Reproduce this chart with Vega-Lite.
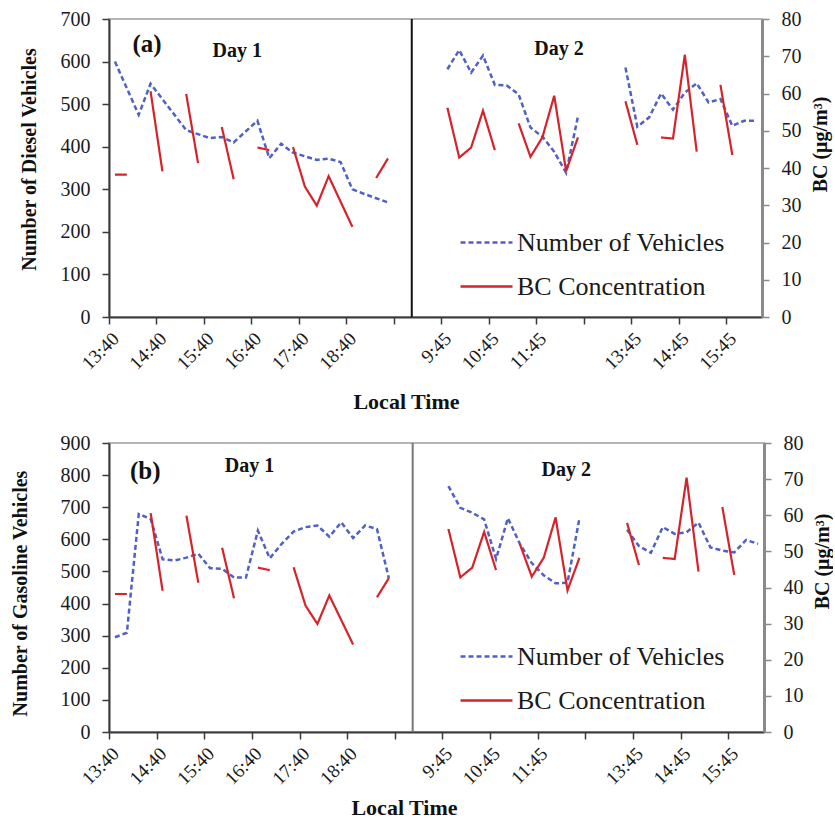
{
  "$schema": "https://vega.github.io/schema/vega-lite/v6.json",
  "padding": {"left": 9, "top": 8, "right": 0, "bottom": 0},
  "background": "white",
  "datasets": {
    "vehA": [
      {"slot": 0, "seg": 1, "count": 600, "series": "Number of Vehicles"},
      {"slot": 2, "seg": 1, "count": 475, "series": "Number of Vehicles"},
      {"slot": 3, "seg": 1, "count": 548, "series": "Number of Vehicles"},
      {"slot": 6, "seg": 1, "count": 439, "series": "Number of Vehicles"},
      {"slot": 8, "seg": 1, "count": 420, "series": "Number of Vehicles"},
      {"slot": 9, "seg": 1, "count": 423, "series": "Number of Vehicles"},
      {"slot": 10, "seg": 1, "count": 410, "series": "Number of Vehicles"},
      {"slot": 12, "seg": 1, "count": 461, "series": "Number of Vehicles"},
      {"slot": 13, "seg": 1, "count": 373, "series": "Number of Vehicles"},
      {"slot": 14, "seg": 1, "count": 407, "series": "Number of Vehicles"},
      {"slot": 15, "seg": 1, "count": 386, "series": "Number of Vehicles"},
      {"slot": 17, "seg": 1, "count": 369, "series": "Number of Vehicles"},
      {"slot": 18, "seg": 1, "count": 372, "series": "Number of Vehicles"},
      {"slot": 19, "seg": 1, "count": 364, "series": "Number of Vehicles"},
      {"slot": 20, "seg": 1, "count": 300, "series": "Number of Vehicles"},
      {"slot": 21, "seg": 1, "count": 289, "series": "Number of Vehicles"},
      {"slot": 22, "seg": 1, "count": 279, "series": "Number of Vehicles"},
      {"slot": 23, "seg": 1, "count": 269, "series": "Number of Vehicles"},
      {"slot": 28, "seg": 2, "count": 582, "series": "Number of Vehicles"},
      {"slot": 29, "seg": 2, "count": 627, "series": "Number of Vehicles"},
      {"slot": 30, "seg": 2, "count": 574, "series": "Number of Vehicles"},
      {"slot": 31, "seg": 2, "count": 614, "series": "Number of Vehicles"},
      {"slot": 32, "seg": 2, "count": 545, "series": "Number of Vehicles"},
      {"slot": 33, "seg": 2, "count": 544, "series": "Number of Vehicles"},
      {"slot": 34, "seg": 2, "count": 523, "series": "Number of Vehicles"},
      {"slot": 35, "seg": 2, "count": 445, "series": "Number of Vehicles"},
      {"slot": 36, "seg": 2, "count": 424, "series": "Number of Vehicles"},
      {"slot": 37, "seg": 2, "count": 388, "series": "Number of Vehicles"},
      {"slot": 38, "seg": 2, "count": 339, "series": "Number of Vehicles"},
      {"slot": 39, "seg": 2, "count": 471, "series": "Number of Vehicles"},
      {"slot": 43, "seg": 3, "count": 586, "series": "Number of Vehicles"},
      {"slot": 44, "seg": 3, "count": 447, "series": "Number of Vehicles"},
      {"slot": 45, "seg": 3, "count": 469, "series": "Number of Vehicles"},
      {"slot": 46, "seg": 3, "count": 525, "series": "Number of Vehicles"},
      {"slot": 47, "seg": 3, "count": 487, "series": "Number of Vehicles"},
      {"slot": 48, "seg": 3, "count": 527, "series": "Number of Vehicles"},
      {"slot": 49, "seg": 3, "count": 549, "series": "Number of Vehicles"},
      {"slot": 50, "seg": 3, "count": 504, "series": "Number of Vehicles"},
      {"slot": 51, "seg": 3, "count": 512, "series": "Number of Vehicles"},
      {"slot": 52, "seg": 3, "count": 449, "series": "Number of Vehicles"},
      {"slot": 53, "seg": 3, "count": 461, "series": "Number of Vehicles"},
      {"slot": 54, "seg": 3, "count": 461, "series": "Number of Vehicles"}
    ],
    "vehB": [
      {"slot": 0, "seg": 1, "count": 295, "series": "Number of Vehicles"},
      {"slot": 1, "seg": 1, "count": 309, "series": "Number of Vehicles"},
      {"slot": 2, "seg": 1, "count": 679, "series": "Number of Vehicles"},
      {"slot": 3, "seg": 1, "count": 663, "series": "Number of Vehicles"},
      {"slot": 4, "seg": 1, "count": 538, "series": "Number of Vehicles"},
      {"slot": 5, "seg": 1, "count": 534, "series": "Number of Vehicles"},
      {"slot": 6, "seg": 1, "count": 543, "series": "Number of Vehicles"},
      {"slot": 7, "seg": 1, "count": 555, "series": "Number of Vehicles"},
      {"slot": 8, "seg": 1, "count": 510, "series": "Number of Vehicles"},
      {"slot": 9, "seg": 1, "count": 508, "series": "Number of Vehicles"},
      {"slot": 10, "seg": 1, "count": 481, "series": "Number of Vehicles"},
      {"slot": 11, "seg": 1, "count": 481, "series": "Number of Vehicles"},
      {"slot": 12, "seg": 1, "count": 627, "series": "Number of Vehicles"},
      {"slot": 13, "seg": 1, "count": 541, "series": "Number of Vehicles"},
      {"slot": 14, "seg": 1, "count": 586, "series": "Number of Vehicles"},
      {"slot": 15, "seg": 1, "count": 624, "series": "Number of Vehicles"},
      {"slot": 16, "seg": 1, "count": 638, "series": "Number of Vehicles"},
      {"slot": 17, "seg": 1, "count": 643, "series": "Number of Vehicles"},
      {"slot": 18, "seg": 1, "count": 608, "series": "Number of Vehicles"},
      {"slot": 19, "seg": 1, "count": 653, "series": "Number of Vehicles"},
      {"slot": 20, "seg": 1, "count": 604, "series": "Number of Vehicles"},
      {"slot": 21, "seg": 1, "count": 643, "series": "Number of Vehicles"},
      {"slot": 22, "seg": 1, "count": 632, "series": "Number of Vehicles"},
      {"slot": 23, "seg": 1, "count": 479, "series": "Number of Vehicles"},
      {"slot": 28, "seg": 2, "count": 766, "series": "Number of Vehicles"},
      {"slot": 29, "seg": 2, "count": 698, "series": "Number of Vehicles"},
      {"slot": 30, "seg": 2, "count": 683, "series": "Number of Vehicles"},
      {"slot": 31, "seg": 2, "count": 662, "series": "Number of Vehicles"},
      {"slot": 32, "seg": 2, "count": 539, "series": "Number of Vehicles"},
      {"slot": 33, "seg": 2, "count": 666, "series": "Number of Vehicles"},
      {"slot": 34, "seg": 2, "count": 586, "series": "Number of Vehicles"},
      {"slot": 35, "seg": 2, "count": 526, "series": "Number of Vehicles"},
      {"slot": 36, "seg": 2, "count": 488, "series": "Number of Vehicles"},
      {"slot": 37, "seg": 2, "count": 463, "series": "Number of Vehicles"},
      {"slot": 38, "seg": 2, "count": 465, "series": "Number of Vehicles"},
      {"slot": 39, "seg": 2, "count": 665, "series": "Number of Vehicles"},
      {"slot": 43, "seg": 3, "count": 630, "series": "Number of Vehicles"},
      {"slot": 44, "seg": 3, "count": 579, "series": "Number of Vehicles"},
      {"slot": 45, "seg": 3, "count": 558, "series": "Number of Vehicles"},
      {"slot": 46, "seg": 3, "count": 638, "series": "Number of Vehicles"},
      {"slot": 47, "seg": 3, "count": 617, "series": "Number of Vehicles"},
      {"slot": 48, "seg": 3, "count": 622, "series": "Number of Vehicles"},
      {"slot": 49, "seg": 3, "count": 652, "series": "Number of Vehicles"},
      {"slot": 50, "seg": 3, "count": 575, "series": "Number of Vehicles"},
      {"slot": 51, "seg": 3, "count": 565, "series": "Number of Vehicles"},
      {"slot": 52, "seg": 3, "count": 559, "series": "Number of Vehicles"},
      {"slot": 53, "seg": 3, "count": 598, "series": "Number of Vehicles"},
      {"slot": 54, "seg": 3, "count": 586, "series": "Number of Vehicles"}
    ],
    "bc": [
      {"slot": 0, "seg": 1, "bc": 38.2, "series": "BC Concentration"},
      {"slot": 1, "seg": 1, "bc": 38.2, "series": "BC Concentration"},
      {"slot": 3, "seg": 2, "bc": 60.6, "series": "BC Concentration"},
      {"slot": 4, "seg": 2, "bc": 39.1, "series": "BC Concentration"},
      {"slot": 6, "seg": 3, "bc": 59.9, "series": "BC Concentration"},
      {"slot": 7, "seg": 3, "bc": 41.3, "series": "BC Concentration"},
      {"slot": 9, "seg": 4, "bc": 51.0, "series": "BC Concentration"},
      {"slot": 10, "seg": 4, "bc": 37.0, "series": "BC Concentration"},
      {"slot": 12, "seg": 5, "bc": 45.5, "series": "BC Concentration"},
      {"slot": 13, "seg": 5, "bc": 44.8, "series": "BC Concentration"},
      {"slot": 15, "seg": 6, "bc": 45.6, "series": "BC Concentration"},
      {"slot": 16, "seg": 6, "bc": 35.0, "series": "BC Concentration"},
      {"slot": 17, "seg": 6, "bc": 29.9, "series": "BC Concentration"},
      {"slot": 18, "seg": 6, "bc": 37.8, "series": "BC Concentration"},
      {"slot": 20, "seg": 6, "bc": 24.2, "series": "BC Concentration"},
      {"slot": 22, "seg": 7, "bc": 37.3, "series": "BC Concentration"},
      {"slot": 23, "seg": 7, "bc": 42.6, "series": "BC Concentration"},
      {"slot": 28, "seg": 8, "bc": 56.2, "series": "BC Concentration"},
      {"slot": 29, "seg": 8, "bc": 42.8, "series": "BC Concentration"},
      {"slot": 30, "seg": 8, "bc": 45.5, "series": "BC Concentration"},
      {"slot": 31, "seg": 8, "bc": 55.4, "series": "BC Concentration"},
      {"slot": 32, "seg": 8, "bc": 44.8, "series": "BC Concentration"},
      {"slot": 34, "seg": 9, "bc": 52.0, "series": "BC Concentration"},
      {"slot": 35, "seg": 9, "bc": 43.0, "series": "BC Concentration"},
      {"slot": 36, "seg": 9, "bc": 48.2, "series": "BC Concentration"},
      {"slot": 37, "seg": 9, "bc": 59.4, "series": "BC Concentration"},
      {"slot": 38, "seg": 9, "bc": 39.2, "series": "BC Concentration"},
      {"slot": 39, "seg": 9, "bc": 48.2, "series": "BC Concentration"},
      {"slot": 43, "seg": 10, "bc": 57.9, "series": "BC Concentration"},
      {"slot": 44, "seg": 10, "bc": 46.2, "series": "BC Concentration"},
      {"slot": 46, "seg": 11, "bc": 48.2, "series": "BC Concentration"},
      {"slot": 47, "seg": 11, "bc": 47.9, "series": "BC Concentration"},
      {"slot": 48, "seg": 11, "bc": 70.4, "series": "BC Concentration"},
      {"slot": 49, "seg": 11, "bc": 44.4, "series": "BC Concentration"},
      {"slot": 51, "seg": 12, "bc": 62.3, "series": "BC Concentration"},
      {"slot": 52, "seg": 12, "bc": 43.5, "series": "BC Concentration"}
    ]
  },
  "config": {
    "font": "Liberation Serif",
    "view": {"stroke": "#b5b5b5", "strokeWidth": 2},
    "axis": {
      "labelFont": "Liberation Serif", "labelFontSize": 20, "labelColor": "#1a1a1a",
      "titleFont": "Liberation Serif", "titleFontSize": 20, "titleFontWeight": "bold", "titleColor": "#111",
      "grid": false, "domainColor": "#3a3a3a", "tickColor": "#3a3a3a", "domainWidth": 2, "tickWidth": 1.5, "tickSize": 7, "labelPadding": 12,
      "labelOverlap": false, "labelFlush": false
    },
    "axisX": {"labelPadding": 5, "labelFontSize": 19, "titleFontSize": 22},
    "legend": {
      "orient": "none", "title": null, "symbolType": "stroke", "symbolSize": 2700, "symbolStrokeWidth": 2.5,
      "labelFont": "Liberation Serif", "labelFontSize": 26, "labelColor": "#1a1a1a", "labelOffset": 3, "rowPadding": 3, "labelLimit": 400
    }
  },
  "resolve": {"scale": {"color": "independent", "strokeDash": "independent"}},
  "spacing": 18,
  "vconcat": [
    {
      "width": 653, "height": 298,
      "resolve": {"scale": {"y": "independent"}},
      "layer": [
        {
          "layer": [
            {
              "data": {"name": "vehA"},
              "mark": {"type": "line", "strokeWidth": 2.5},
              "encoding": {
                "x": {"field": "slot", "type": "quantitative", "scale": {"domain": [-0.5, 54.5], "nice": false, "zero": false},
                  "axis": {"title": "Local Time", "titleX": 297, "titlePadding": 18, "values": [-0.5, 3.5, 7.5, 11.5, 15.5, 19.5, 23.5, 27.5, 31.5, 35.5, 39.5, 43.5, 47.5, 51.5], "labelAngle": -45,
                    "labelExpr": "['13:40','14:40','15:40','16:40','17:40','18:40','','9:45','10:45','11:45','','13:45','14:45','15:45'][round((datum.value+0.5)/4)]"}},
                "y": {"field": "count", "type": "quantitative", "scale": {"domain": [0, 700], "nice": false},
                  "axis": {"title": "Number of Diesel Vehicles", "values": [0, 100, 200, 300, 400, 500, 600, 700], "titlePadding": 21, "titleY": 140}},
                "detail": {"field": "seg"},
                "color": {"field": "series", "type": "nominal", "scale": {"domain": ["Number of Vehicles", "BC Concentration"], "range": ["#5160C4", "#D6232B"]},
                  "legend": {"legendX": 350, "legendY": 196}},
                "strokeDash": {"field": "series", "type": "nominal", "scale": {"domain": ["Number of Vehicles", "BC Concentration"], "range": [[5, 3], [1, 0]]},
                  "legend": {"legendX": 350, "legendY": 196}}
              }
            },
            {
              "data": {"values": [{}]},
              "mark": {"type": "rule", "color": "#111", "strokeWidth": 2},
              "encoding": {"x": {"datum": 25, "type": "quantitative"}}
            },
            {
              "data": {"values": [{}]},
              "mark": {"type": "text", "text": "(a)", "fontSize": 25, "fontWeight": "bold", "font": "Liberation Serif", "color": "#111"},
              "encoding": {"x": {"datum": 2.7, "type": "quantitative"},
                "y": {"datum": 642, "type": "quantitative", "axis": {"title": "Number of Diesel Vehicles", "values": [0, 100, 200, 300, 400, 500, 600, 700], "titlePadding": 21, "titleY": 140}}}
            },
            {
              "data": {"values": [{}]},
              "mark": {"type": "text", "text": "Day 1", "fontSize": 20, "fontWeight": "bold", "font": "Liberation Serif", "color": "#111"},
              "encoding": {"x": {"datum": 10.3, "type": "quantitative"},
                "y": {"datum": 625, "type": "quantitative", "axis": {"title": "Number of Diesel Vehicles", "values": [0, 100, 200, 300, 400, 500, 600, 700], "titlePadding": 21, "titleY": 140}}}
            },
            {
              "data": {"values": [{}]},
              "mark": {"type": "text", "text": "Day 2", "fontSize": 20, "fontWeight": "bold", "font": "Liberation Serif", "color": "#111"},
              "encoding": {"x": {"datum": 37.4, "type": "quantitative"},
                "y": {"datum": 630, "type": "quantitative", "axis": {"title": "Number of Diesel Vehicles", "values": [0, 100, 200, 300, 400, 500, 600, 700], "titlePadding": 21, "titleY": 140}}}
            }
          ]
        },
        {
          "data": {"name": "bc"},
          "mark": {"type": "line", "strokeWidth": 2.2},
          "encoding": {
            "x": {"field": "slot", "type": "quantitative"},
            "y": {"field": "bc", "type": "quantitative", "scale": {"domain": [0, 80], "nice": false},
              "axis": {"orient": "right", "title": "BC (μg/m³)", "titleAngle": -90, "titleY": 125, "titlePadding": 29, "values": [0, 10, 20, 30, 40, 50, 60, 70, 80], "domainColor": "#8a8a8a", "tickColor": "#8a8a8a", "domainWidth": 3}},
            "detail": {"field": "seg"},
            "color": {"field": "series", "type": "nominal"},
            "strokeDash": {"field": "series", "type": "nominal"}
          }
        }
      ]
    },
    {
      "width": 655, "height": 289,
      "resolve": {"scale": {"y": "independent"}},
      "layer": [
        {
          "layer": [
            {
              "data": {"name": "vehB"},
              "mark": {"type": "line", "strokeWidth": 2.5},
              "encoding": {
                "x": {"field": "slot", "type": "quantitative", "scale": {"domain": [-0.5, 54.5], "nice": false, "zero": false},
                  "axis": {"title": "Local Time", "titleX": 295, "titlePadding": 9, "values": [-0.5, 3.5, 7.5, 11.5, 15.5, 19.5, 23.5, 27.5, 31.5, 35.5, 39.5, 43.5, 47.5, 51.5], "labelAngle": -45,
                    "labelExpr": "['13:40','14:40','15:40','16:40','17:40','18:40','','9:45','10:45','11:45','','13:45','14:45','15:45'][round((datum.value+0.5)/4)]"}},
                "y": {"field": "count", "type": "quantitative", "scale": {"domain": [0, 900], "nice": false},
                  "axis": {"title": "Number of Gasoline Vehicles", "values": [0, 100, 200, 300, 400, 500, 600, 700, 800, 900], "titlePadding": 30, "titleY": 150}},
                "detail": {"field": "seg"},
                "color": {"field": "series", "type": "nominal", "scale": {"domain": ["Number of Vehicles", "BC Concentration"], "range": ["#5160C4", "#D6232B"]},
                  "legend": {"legendX": 350, "legendY": 186}},
                "strokeDash": {"field": "series", "type": "nominal", "scale": {"domain": ["Number of Vehicles", "BC Concentration"], "range": [[5, 3], [1, 0]]},
                  "legend": {"legendX": 350, "legendY": 186}}
              }
            },
            {
              "data": {"values": [{}]},
              "mark": {"type": "rule", "color": "#777", "strokeWidth": 2},
              "encoding": {"x": {"datum": 25, "type": "quantitative"}}
            },
            {
              "data": {"values": [{}]},
              "mark": {"type": "text", "text": "(b)", "fontSize": 25, "fontWeight": "bold", "font": "Liberation Serif", "color": "#111"},
              "encoding": {"x": {"datum": 2.55, "type": "quantitative"},
                "y": {"datum": 813, "type": "quantitative", "axis": {"title": "Number of Gasoline Vehicles", "values": [0, 100, 200, 300, 400, 500, 600, 700, 800, 900], "titlePadding": 30, "titleY": 150}}}
            },
            {
              "data": {"values": [{}]},
              "mark": {"type": "text", "text": "Day 1", "fontSize": 20, "fontWeight": "bold", "font": "Liberation Serif", "color": "#111"},
              "encoding": {"x": {"datum": 11.3, "type": "quantitative"},
                "y": {"datum": 829, "type": "quantitative", "axis": {"title": "Number of Gasoline Vehicles", "values": [0, 100, 200, 300, 400, 500, 600, 700, 800, 900], "titlePadding": 30, "titleY": 150}}}
            },
            {
              "data": {"values": [{}]},
              "mark": {"type": "text", "text": "Day 2", "fontSize": 20, "fontWeight": "bold", "font": "Liberation Serif", "color": "#111"},
              "encoding": {"x": {"datum": 37.9, "type": "quantitative"},
                "y": {"datum": 816, "type": "quantitative", "axis": {"title": "Number of Gasoline Vehicles", "values": [0, 100, 200, 300, 400, 500, 600, 700, 800, 900], "titlePadding": 30, "titleY": 150}}}
            }
          ]
        },
        {
          "data": {"name": "bc"},
          "mark": {"type": "line", "strokeWidth": 2.2},
          "encoding": {
            "x": {"field": "slot", "type": "quantitative"},
            "y": {"field": "bc", "type": "quantitative", "scale": {"domain": [0, 80], "nice": false},
              "axis": {"orient": "right", "title": "BC (μg/m³)", "titleAngle": -90, "titleY": 118, "titlePadding": 29, "values": [0, 10, 20, 30, 40, 50, 60, 70, 80], "domainColor": "#8a8a8a", "tickColor": "#8a8a8a", "domainWidth": 3}},
            "detail": {"field": "seg"},
            "color": {"field": "series", "type": "nominal"},
            "strokeDash": {"field": "series", "type": "nominal"}
          }
        }
      ]
    }
  ]
}
